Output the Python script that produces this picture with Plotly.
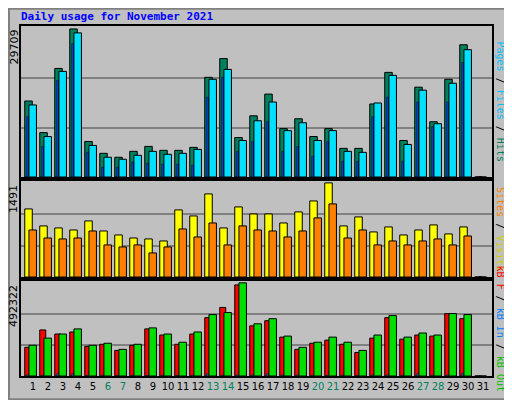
import plotly.graph_objects as go

days = list(range(1, 32))
hits = [15250, 8913, 21787, 29709, 7130, 4753, 3961, 5150, 6140, 5348, 5348, 5942, 20004, 23767, 7922,
        12280, 16637, 9705, 11686, 8120, 9705, 5744, 5744, 14656, 20994, 7328, 18023, 11091, 19608, 26540, 0]
files = [14460, 8120, 21193, 28923, 6338, 3961, 3565, 4357, 5150, 4555, 4753, 5546, 19608, 21590, 7328,
         11290, 15052, 9309, 10893, 7328, 9309, 5150, 4951, 14853, 20400, 6536, 17429, 10695, 18816, 25549, 0]
pages = [12082, 6140, 19410, 26738, 4951, 1980, 1980, 2971, 2773, 2575, 2575, 2377, 16043, 20004, 5150,
         7130, 11091, 5150, 6140, 4159, 7130, 3169, 3169, 12082, 16043, 3169, 15052, 10101, 15052, 22975, 0]
visits = [1078, 809, 777, 745, 888, 729, 666, 618, 603, 571, 1063, 967, 1316, 777, 1110,
          999, 999, 856, 1031, 1205, 1491, 809, 952, 714, 793, 666, 745, 825, 682, 793, 0]
sites = [745, 618, 603, 618, 729, 508, 476, 508, 381, 476, 761, 634, 856, 508, 809,
         745, 729, 634, 729, 936, 1158, 618, 745, 508, 571, 508, 571, 603, 508, 650, 0]
kb_f = [151480, 243450, 221810, 232630, 156890, 167710, 135250, 162300, 248860, 216400, 167710, 221810,
        308370, 362470, 481490, 265090, 292140, 205580, 140660, 173120, 189350, 167710, 124430, 200170,
        308370, 194760, 216400, 210990, 330010, 302960, 0]
kb_out = [162300, 200170, 221810, 248860, 162300, 173120, 140660, 167710, 254270, 221810, 178530, 232630,
          324600, 335420, 492322, 275910, 302960, 210990, 151480, 178530, 205580, 178530, 135250, 216400,
          319190, 205580, 227220, 216400, 330010, 324600, 0]
kb_in = [6000, 4000, 12000, 12000, 4000, 4000, 4000, 4000, 4000, 4000, 4000, 4000, 12000, 4000, 6000,
         6000, 12000, 6000, 6000, 4000, 4000, 4000, 4000, 6000, 6000, 4000, 12000, 4000, 6000, 16000, 0]
weekends = [6, 7, 13, 14, 20, 21, 27, 28]

W, H = 504, 392
def px(x): return (x - 8) / W
def py(y): return 1 - (y - 8) / H

fig = go.Figure()
BL = dict(color="black", width=1)

def bar(y, color, axis, off, w, line=BL):
    s = "" if axis == 1 else str(axis)
    fig.add_trace(go.Bar(x=days, y=y, marker=dict(color=color, line=line), offset=off, width=w,
                         xaxis="x" + s, yaxis="y" + s, showlegend=False, hoverinfo="skip"))

bar(hits, "#00805c", 1, -0.55, 0.5)
bar(pages, "#0040ff", 1, -0.42, 0.12, dict(color="black", width=0.5))
bar(files, "#00e0ff", 1, -0.27, 0.5)
bar(visits, "#ffff00", 2, -0.55, 0.5)
bar(sites, "#ff8000", 2, -0.27, 0.5)
bar(kb_f, "#ff0000", 3, -0.55, 0.4)
bar(kb_in, "#0080ff", 3, -0.42, 0.1, dict(color="black", width=0.5))
bar(kb_out, "#00e000", 3, -0.27, 0.5)

xd = [px(21), px(492)]
doms = [[py(177), py(26)], [py(277), py(181)], [py(376), py(281)]]
maxes = [max(hits), max(visits), max(kb_out)]
ticktext = [f'<span style="color:#008060">{d}</span>' if d in weekends else str(d) for d in days]
layout = dict(barmode="overlay", width=W, height=H, margin=dict(l=0, r=0, t=0, b=0),
              paper_bgcolor="#c0c0c0", plot_bgcolor="#c0c0c0",
              font=dict(family="DejaVu Sans Mono", size=11, color="black"))
for i in range(3):
    s = "" if i == 0 else str(i + 1)
    layout["xaxis" + s] = dict(domain=xd, range=[0.2, 31.6], anchor="y" + s, showgrid=False,
                               tickvals=days, ticktext=ticktext, showticklabels=(i == 2), tickangle=0,
                               showline=True, mirror=True, linecolor="black", linewidth=2, ticks="",
                               tickfont=dict(size=10, family="DejaVu Sans"))
    m = maxes[i]
    layout["yaxis" + s] = dict(domain=doms[i], range=[0, m * 1.02], anchor="x" + s,
                               tickvals=[m / 3, 2 * m / 3], showticklabels=False, gridcolor="#808080",
                               gridwidth=1.5, showline=True, mirror=True, linecolor="black", linewidth=2,
                               zeroline=False)
fig.update_layout(**layout)

ann = [dict(x=px(19), y=py(16), text="<b>Daily usage for November 2021</b>", xanchor="left", yanchor="middle",
            font=dict(color="#0000ff", size=11))]
for i, lab in enumerate(["29709", "1491", "492322"]):
    ann.append(dict(x=px(14), y=doms[i][1] - 0.005, text=lab, textangle=-90, xanchor="center", yanchor="top",
                    font=dict(size=11, family="DejaVu Sans")))
right = [
    '<span style="color:#00c0ff">Pages</span> / <span style="color:#00c0ff">Files</span> / <span style="color:#008060">Hits</span>',
    '<span style="color:#ff8000">Sites</span> / <span style="color:#d0d000">Visits</span>',
    '<span style="color:#ff0000">kB F</span> / <span style="color:#0080ff">kB In</span> / <span style="color:#00c000">kB Out</span>',
]
for i, t in enumerate(right):
    ann.append(dict(x=px(500), y=(doms[i][0] + doms[i][1]) / 2, text=t, textangle=90,
                    xanchor="center", yanchor="middle", font=dict(size=10)))
for a in ann:
    a.update(xref="paper", yref="paper", showarrow=False)
fig.update_layout(annotations=ann)
fig.add_shape(type="rect", xref="paper", yref="paper", x0=0.002, y0=0.002, x1=0.998, y1=0.998,
              line=dict(color="#808080", width=2))
fig.write_html("out.html")
